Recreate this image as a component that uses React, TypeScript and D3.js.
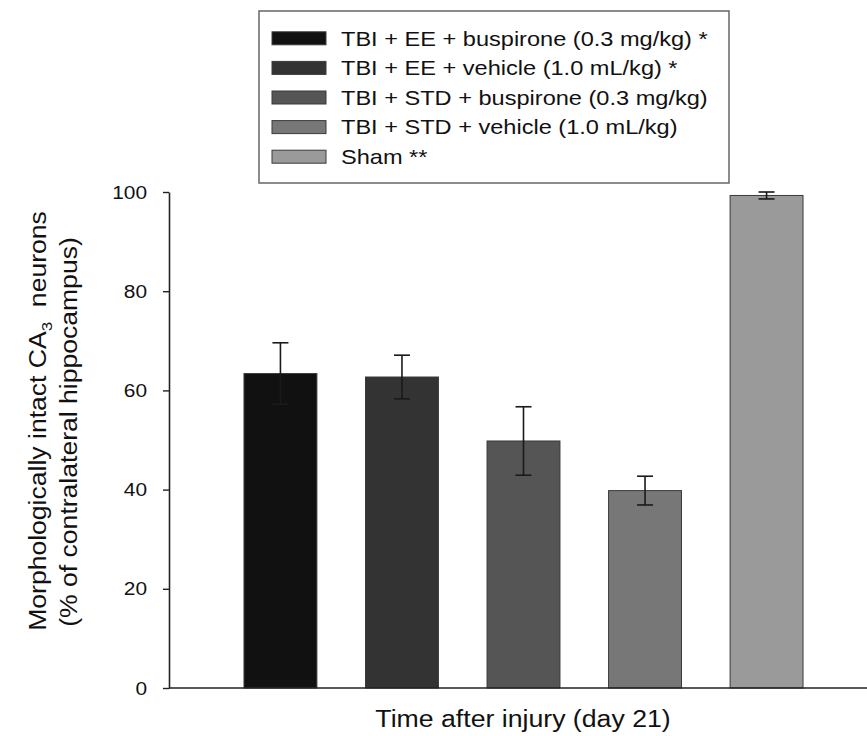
import { useEffect, useRef } from 'react';
import * as d3 from 'd3';

const groups = [
  'TBI + EE + buspirone (0.3 mg/kg) *',
  'TBI + EE + vehicle (1.0 mL/kg) *',
  'TBI + STD + buspirone (0.3 mg/kg)',
  'TBI + STD + vehicle (1.0 mL/kg)',
  'Sham **',
];
const means = [63.4, 62.7, 49.8, 39.8, 99.3];
const sems = [6.2, 4.4, 6.9, 2.9, 0.7];
const fills = ['#111111', '#333333', '#555555', '#777777', '#9a9a9a'];
const yTicks = [0, 20, 40, 60, 80, 100];

const FONT = '"Liberation Sans", Arial, Helvetica, sans-serif';

const App = () => {
  const svgRef = useRef<SVGSVGElement>(null);
  const width = 867;
  const height = 736;

  useEffect(() => {
    const svg = d3.select(svgRef.current);
    svg.selectAll('*').remove();

    const x = d3.scaleBand<string>()
      .domain(groups)
      .range([169, 878])
      .paddingInner(0.4)
      .paddingOuter(0.617);

    const y = d3.scaleLinear().domain([0, 100]).range([688, 192]);

    // bars
    svg.append('g')
      .selectAll('rect')
      .data(groups)
      .enter()
      .append('rect')
      .attr('x', d => x(d)!)
      .attr('y', (d, i) => y(means[i]))
      .attr('width', x.bandwidth())
      .attr('height', (d, i) => y(0) - y(means[i]))
      .attr('fill', (d, i) => fills[i])
      .attr('stroke', '#3a3a3a')
      .attr('stroke-width', 1);

    // error bars
    const err = svg.append('g')
      .attr('stroke', '#1a1a1a')
      .attr('stroke-width', 1.6);
    groups.forEach((g, i) => {
      const cx = x(g)! + x.bandwidth() / 2;
      const hi = y(means[i] + sems[i]);
      const lo = y(means[i] - sems[i]);
      err.append('line').attr('x1', cx).attr('x2', cx).attr('y1', hi).attr('y2', lo);
      err.append('line').attr('x1', cx - 8).attr('x2', cx + 8).attr('y1', hi).attr('y2', hi);
      err.append('line').attr('x1', cx - 8).attr('x2', cx + 8).attr('y1', lo).attr('y2', lo);
    });

    // x axis line
    svg.append('line')
      .attr('x1', 169).attr('x2', width)
      .attr('y1', y(0)).attr('y2', y(0))
      .attr('stroke', '#222')
      .attr('stroke-width', 1.6);

    // y axis
    const yAxis = svg.append('g')
      .attr('transform', 'translate(169,0)')
      .call(d3.axisLeft(y).tickValues(yTicks).tickSize(6).tickSizeOuter(0).tickPadding(14));
    yAxis.select('.domain').attr('stroke', '#222').attr('stroke-width', 1.6);
    yAxis.selectAll('.tick line').attr('stroke', '#222').attr('stroke-width', 1.4);
    yAxis.selectAll('.tick text')
      .attr('font-family', FONT)
      .attr('font-size', 19)
      .attr('fill', '#111')
      .attr('transform', 'scale(1.1,1)');

    // y title
    const yt = svg.append('g')
      .attr('font-family', FONT)
      .attr('fill', '#111');
    const line1 = yt.append('text')
      .attr('transform', 'translate(46,421) rotate(-90) scale(1.13,1)')
      .attr('text-anchor', 'middle')
      .attr('font-size', 23.5);
    line1.append('tspan').text('Morphologically intact CA');
    line1.append('tspan').attr('font-size', 15).attr('dy', 6).text('3');
    line1.append('tspan').attr('dy', -6).text('\u00a0 neurons');
    yt.append('text')
      .attr('transform', 'translate(77,432) rotate(-90) scale(1.13,1)')
      .attr('text-anchor', 'middle')
      .attr('font-size', 23.5)
      .text('(% of contralateral hippocampus)');

    // x title
    svg.append('text')
      .attr('transform', 'translate(523,727) scale(1.16,1)')
      .attr('text-anchor', 'middle')
      .attr('font-family', FONT)
      .attr('font-size', 23)
      .attr('fill', '#111')
      .text('Time after injury (day 21)');

    // legend
    const legend = svg.append('g');
    legend.append('rect')
      .attr('x', 259).attr('y', 11)
      .attr('width', 470).attr('height', 172)
      .attr('fill', '#fff')
      .attr('stroke', '#666')
      .attr('stroke-width', 1.5);
    const rows = legend.selectAll('.row')
      .data(groups)
      .enter()
      .append('g')
      .attr('transform', (d, i) => `translate(272, ${38.3 + i * 29.6})`);
    rows.append('rect')
      .attr('x', 0).attr('y', -6.5)
      .attr('width', 54).attr('height', 13)
      .attr('fill', (d, i) => fills[i])
      .attr('stroke', '#3a3a3a')
      .attr('stroke-width', 1);
    rows.append('text')
      .attr('transform', 'translate(69,0) scale(1.15,1)')
      .attr('dy', '0.36em')
      .attr('font-family', FONT)
      .attr('font-size', 20.5)
      .attr('fill', '#111')
      .text(d => d);
  }, []);

  return (
    <div>
      <svg
        ref={svgRef}
        width={width}
        height={height}
        style={{ position: 'absolute', left: 0, top: 0, background: '#fff' }}
      />
    </div>
  );
};

export default App;
